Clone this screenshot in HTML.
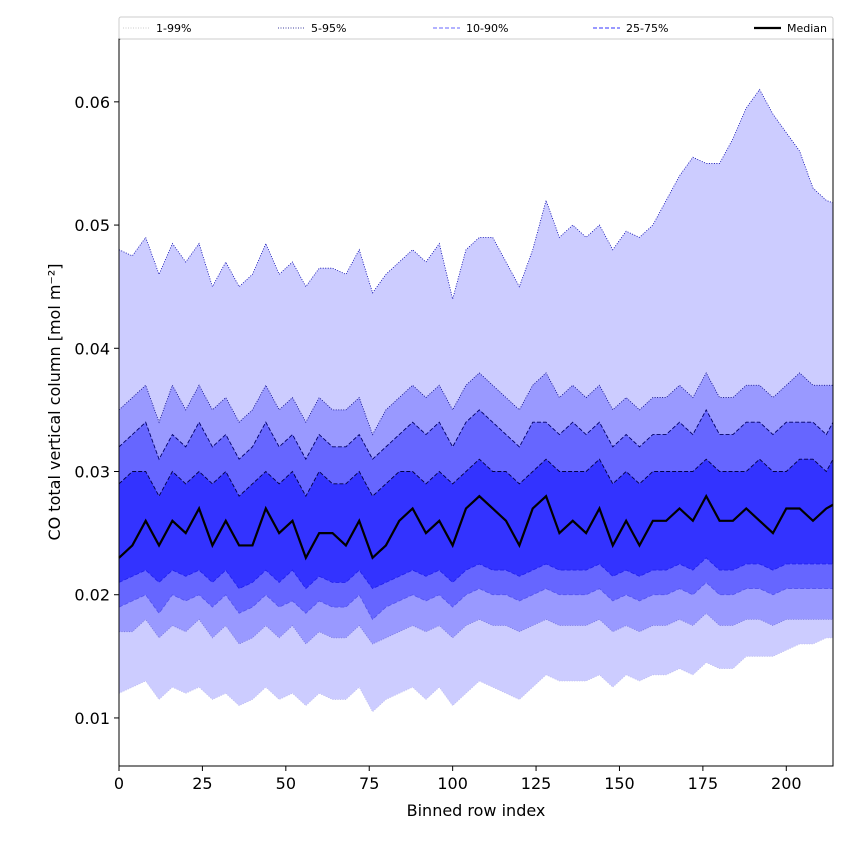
<!DOCTYPE html>
<html><head><meta charset="utf-8"><style>
body{margin:0;background:#fff;}
svg{font-family:"DejaVu Sans","Liberation Sans",sans-serif;}
</style></head><body>
<svg id="chart" width="850" height="850" viewBox="0 0 850 850">
<g id="bands"></g>
<g id="axes"></g>
<g id="legend"></g>
</svg>
<script>
// x positions: binned row index, every 4 rows
const xs = [0,4,8,12,16,20,24,28,32,36,40,44,48,52,56,60,64,68,72,76,80,84,88,92,96,100,104,108,112,116,120,124,128,132,136,140,144,148,152,156,160,164,168,172,176,180,184,188,192,196,200,204,208,212,214];
// values in 1e-3 mol m^-2
const p99 = [48,47.5,49,46,48.5,47,48.5,45,47,45,46,48.5,46,47,45,46.5,46.5,46,48,44.5,46,47,48,47,48.5,44,48,49,49,47,45,48,52,49,50,49,50,48,49.5,49,50,52,54,55.5,55,55,57,59.5,61,59,57.5,56,53,52,51.8];
const p95 = [35,36,37,34,37,35,37,35,36,34,35,37,35,36,34,36,35,35,36,33,35,36,37,36,37,35,37,38,37,36,35,37,38,36,37,36,37,35,36,35,36,36,37,36,38,36,36,37,37,36,37,38,37,37,37];
const p90 = [32,33,34,31,33,32,34,32,33,31,32,34,32,33,31,33,32,32,33,31,32,33,34,33,34,32,34,35,34,33,32,34,34,33,34,33,34,32,33,32,33,33,34,33,35,33,33,34,34,33,34,34,34,33,34];
const p75 = [29,30,30,28,30,29,30,29,30,28,29,30,29,30,28,30,29,29,30,28,29,30,30,29,30,29,30,31,30,30,29,30,31,30,30,30,31,29,30,29,30,30,30,30,31,30,30,30,31,30,30,31,31,30,31];
const med = [23,24,26,24,26,25,27,24,26,24,24,27,25,26,23,25,25,24,26,23,24,26,27,25,26,24,27,28,27,26,24,27,28,25,26,25,27,24,26,24,26,26,27,26,28,26,26,27,26,25,27,27,26,27,27.3];
const p25 = [21,21.5,22,21,22,21.5,22,21,22,20.5,21,22,21,22,20.5,21.5,21,21,22,20.5,21,21.5,22,21.5,22,21,22,22.5,22,22,21.5,22,22.5,22,22,22,22.5,21.5,22,21.5,22,22,22.5,22,23,22,22,22.5,22.5,22,22.5,22.5,22.5,22.5,22.5];
const p10 = [19,19.5,20,18.5,20,19.5,20,19,20,18.5,19,20,19,19.5,18.5,19.5,19,19,20,18,19,19.5,20,19.5,20,19,20,20.5,20,20,19.5,20,20.5,20,20,20,20.5,19.5,20,19.5,20,20,20.5,20,21,20,20,20.5,20.5,20,20.5,20.5,20.5,20.5,20.5];
const p5 = [17,17,18,16.5,17.5,17,18,16.5,17.5,16,16.5,17.5,16.5,17.5,16,17,16.5,16.5,17.5,16,16.5,17,17.5,17,17.5,16.5,17.5,18,17.5,17.5,17,17.5,18,17.5,17.5,17.5,18,17,17.5,17,17.5,17.5,18,17.5,18.5,17.5,17.5,18,18,17.5,18,18,18,18,18];
const p1 = [12,12.5,13,11.5,12.5,12,12.5,11.5,12,11,11.5,12.5,11.5,12,11,12,11.5,11.5,12.5,10.5,11.5,12,12.5,11.5,12.5,11,12,13,12.5,12,11.5,12.5,13.5,13,13,13,13.5,12.5,13.5,13,13.5,13.5,14,13.5,14.5,14,14,15,15,15,15.5,16,16,16.5,16.5];
const xTicks = [0,25,50,75,100,125,150,175,200];
const yTicks = [10,20,30,40,50,60];
const yTickLabels = ["0.01","0.02","0.03","0.04","0.05","0.06"];
const legendLabels = ["1-99%","5-95%","10-90%","25-75%","Median"];

const L=119,R=833,T=39,B=766, XMIN=0,XMAX=214, YMIN=6.1,YMAX=65.1;
const X=v=>L+(v-XMIN)/(XMAX-XMIN)*(R-L);
const Y=v=>B-(v-YMIN)/(YMAX-YMIN)*(B-T);
const NS="http://www.w3.org/2000/svg";
function mk(tag,parent,attrs){const e=document.createElementNS(NS,tag);for(const k in attrs)e.setAttribute(k,attrs[k]);parent.appendChild(e);return e;}
const bands=document.getElementById('bands');
function area(lo,hi,fill,name){
  let d='M'+xs.map((x,i)=>X(x)+','+Y(hi[i])).join('L');
  for(let i=xs.length-1;i>=0;i--)d+='L'+X(xs[i])+','+Y(lo[i]);
  const e=mk('path',bands,{d:d+'Z',fill:fill});
  
  
}
function line(arr,stroke,w,dash,name){
  const e=mk('path',bands,{d:'M'+xs.map((x,i)=>X(x)+','+Y(arr[i])).join('L'),fill:'none',stroke:stroke,'stroke-width':w,'stroke-dasharray':dash});
  
  
}
area(p1,p99,'#ccccff','band-1-99');
area(p5,p95,'#9999ff','band-5-95');
area(p10,p90,'#6666ff','band-10-90');
area(p25,p75,'#3333ff','band-25-75');
line(p99,'#0000aa',0.8,'1,1.5','line-p99');
line(p1,'#bbbbee',0.8,'1,1.5','line-p1');
line(p95,'#000080',0.8,'1,1.5','line-p95');
line(p5,'#7777dd',0.8,'1,1.5','line-p5');
line(p90,'#000066',0.9,'4,2','line-p90');
line(p10,'#5555ee',0.9,'4,2','line-p10');
line(p75,'#000044',0.9,'4,2','line-p75');
line(p25,'#2222ee',0.9,'4,2','line-p25');
line(med,'#000',2.2,'','median-line');

const ax=document.getElementById('axes');
let f=mk('rect',ax,{x:L,y:T,width:R-L,height:B-T,fill:'none',stroke:'#000','stroke-width':1});

xTicks.forEach(t=>{
  mk('line',ax,{x1:X(t),x2:X(t),y1:B,y2:B+5,stroke:'#000'});
  const e=mk('text',ax,{x:X(t),y:B+23,'text-anchor':'middle','font-size':16});e.textContent=t;
  
});
yTicks.forEach((t,i)=>{
  mk('line',ax,{x1:L-5,x2:L,y1:Y(t),y2:Y(t),stroke:'#000'});
  const e=mk('text',ax,{x:L-9,y:Y(t)+6,'text-anchor':'end','font-size':16});e.textContent=yTickLabels[i];
  
});
let xl=mk('text',ax,{x:(L+R)/2,y:816,'text-anchor':'middle','font-size':16});xl.textContent='Binned row index';

let yl=mk('text',ax,{x:0,y:0,'text-anchor':'middle','font-size':16,transform:'translate(60,402) rotate(-90)'});yl.textContent='CO total vertical column [mol m⁻²]';


const lg=document.getElementById('legend');
let lb=mk('rect',lg,{x:119,y:17,width:714,height:22,fill:'#fff',stroke:'#ccc','stroke-width':1,rx:2});

const lx=[123,278,433,593,754];
const ls=[['#bbbbbb',0.8,'1,1.5'],['#000080',0.8,'1,1.5'],['#6666ff',1,'4,2'],['#3333ff',1,'4,2'],['#000',2.2,'']];
legendLabels.forEach((t,i)=>{
  const g=mk('g',lg,{});
  
  mk('line',g,{x1:lx[i],x2:lx[i]+27,y1:28,y2:28,stroke:ls[i][0],'stroke-width':ls[i][1],'stroke-dasharray':ls[i][2]});
  const e=mk('text',g,{x:lx[i]+33,y:32,'font-size':11});e.textContent=t;
});
</script>
</body></html>
